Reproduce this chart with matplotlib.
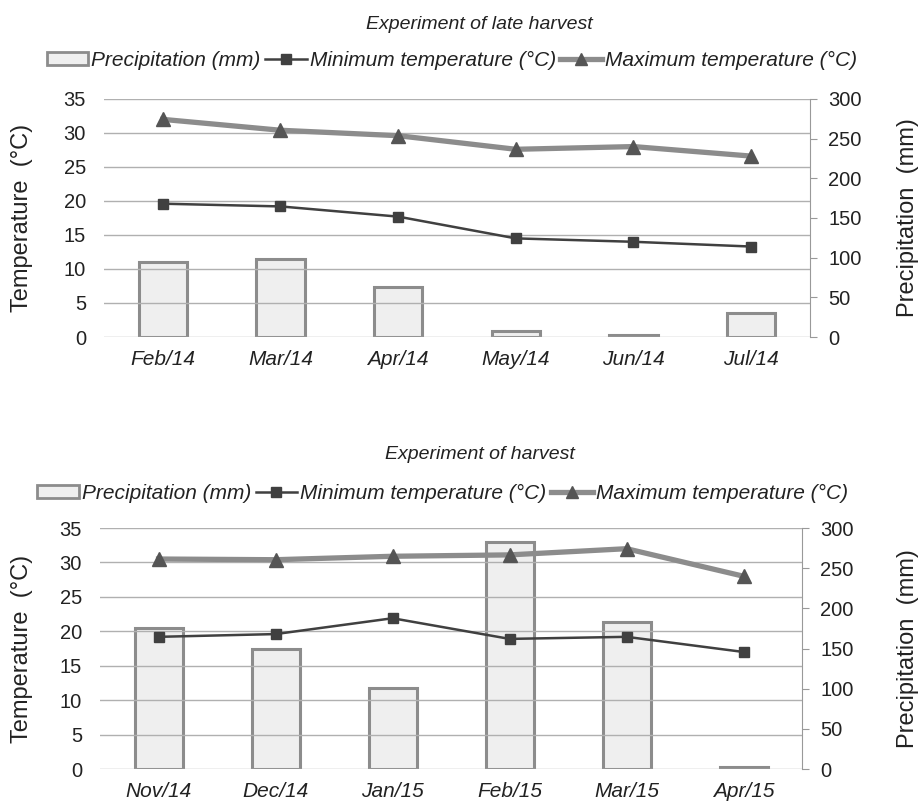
import numpy as np
import matplotlib.pyplot as plt
from matplotlib.patches import Rectangle
from matplotlib.lines import Line2D

plt.rcParams['font.family'] = ['Liberation Sans', 'DejaVu Sans']

# data
months_late = ['Feb/14', 'Mar/14', 'Apr/14', 'May/14', 'Jun/14', 'Jul/14']
precip_late = [95, 98, 63, 7, 2, 30]
tmin_late = [19.6, 19.2, 17.7, 14.5, 14.0, 13.3]
tmax_late = [32.0, 30.4, 29.6, 27.6, 28.0, 26.6]

months_harv = ['Nov/14', 'Dec/14', 'Jan/15', 'Feb/15', 'Mar/15', 'Apr/15']
precip_harv = [175, 149, 101, 283, 183, 2]
tmin_harv = [19.2, 19.6, 21.9, 18.9, 19.2, 17.0]
tmax_harv = [30.5, 30.4, 30.9, 31.1, 32.0, 28.0]

BAR_FACE = '#efefef'
BAR_EDGE = '#8c8c8c'
MIN_COL = '#404040'
MAX_COL = '#8c8c8c'
MAX_MARK = '#555555'
GRID_COL = '#b0b0b0'
TXT = '#222222'

fig = plt.figure(figsize=(9.22, 8.02), dpi=100)


#---------------------------
def draw_panel(rect, months, precip, tmin, tmax, title, title_y, legend_y, legend_x):
    axp = fig.add_axes(rect)
    axt = axp.twinx()
    x = np.arange(len(months))

    # precipitation bars (right scale)
    axp.bar(x, precip, width=0.41, color=BAR_FACE, edgecolor=BAR_EDGE, linewidth=2.2)
    axp.set_ylim(0, 300)
    axp.set_yticks(range(0, 301, 50))
    axp.yaxis.tick_right()
    axp.tick_params(axis='y', length=5, width=0.8, color='#999999', pad=8,
                    labelsize=14.5, labelcolor=TXT)
    axp.set_xlim(-0.5, len(months) - 0.5)
    axp.set_xticks(x)
    axp.set_xticklabels(months, fontsize=15, style='italic', color=TXT)
    axp.tick_params(axis='x', length=0, pad=9)
    for s in ['top', 'left', 'bottom']:
        axp.spines[s].set_visible(False)
    axp.spines['right'].set_color('#999999')

    # temperatures (left scale)
    axt.yaxis.tick_left()
    axt.set_ylim(0, 35)
    axt.set_yticks(range(0, 36, 5))
    axt.tick_params(axis='y', length=0, pad=13, labelsize=14.5, labelcolor=TXT)
    axt.grid(axis='y', color=GRID_COL, linewidth=1.0)
    axt.set_axisbelow(True)
    for s in axt.spines.values():
        s.set_visible(False)
    axt.plot(x, tmin, color=MIN_COL, linewidth=1.8, marker='s', markersize=7)
    axt.plot(x, tmax, color=MAX_COL, linewidth=3.8, marker='^', markersize=10,
             markerfacecolor=MAX_MARK, markeredgecolor=MAX_MARK)

    ymid = rect[1] + rect[3] / 2
    fig.text(0.024, ymid, 'Temperature  (°C)', rotation=90, ha='center', va='center',
             fontsize=17, color=TXT)
    fig.text(0.985, ymid, 'Precipitation  (mm)', rotation=90, ha='center', va='center',
             fontsize=17, color=TXT)

    fig.text(0.52, title_y, title, ha='center', va='center', fontsize=14,
             style='italic', color=TXT)

    handles = [
        Rectangle((0, 0), 1, 1, facecolor=BAR_FACE, edgecolor=BAR_EDGE, linewidth=2),
        Line2D([], [], color=MIN_COL, linewidth=1.8, marker='s', markersize=7),
        Line2D([], [], color=MAX_COL, linewidth=3.8, marker='^', markersize=8,
               markerfacecolor=MAX_MARK, markeredgecolor=MAX_MARK),
    ]
    labels = ['Precipitation (mm)', 'Minimum temperature (°C)', 'Maximum temperature (°C)']
    fig.legend(handles, labels, loc='center', bbox_to_anchor=(legend_x, legend_y), ncol=3,
               frameon=False, prop={'size': 15, 'style': 'italic'}, handlelength=2.0,
               handleheight=0.6, handletextpad=0.15, columnspacing=0.2, labelcolor=TXT)
    return axp, axt
#---------------------------


draw_panel([0.1128, 0.5798, 0.7657, 0.2968], months_late, precip_late, tmin_late, tmax_late,
           'Experiment of late harvest', 0.969, 0.925, 0.49)
draw_panel([0.1085, 0.0411, 0.7614, 0.3005], months_harv, precip_harv, tmin_harv, tmax_harv,
           'Experiment of harvest', 0.433, 0.385, 0.48)

fig.savefig('out.png', dpi=100)
